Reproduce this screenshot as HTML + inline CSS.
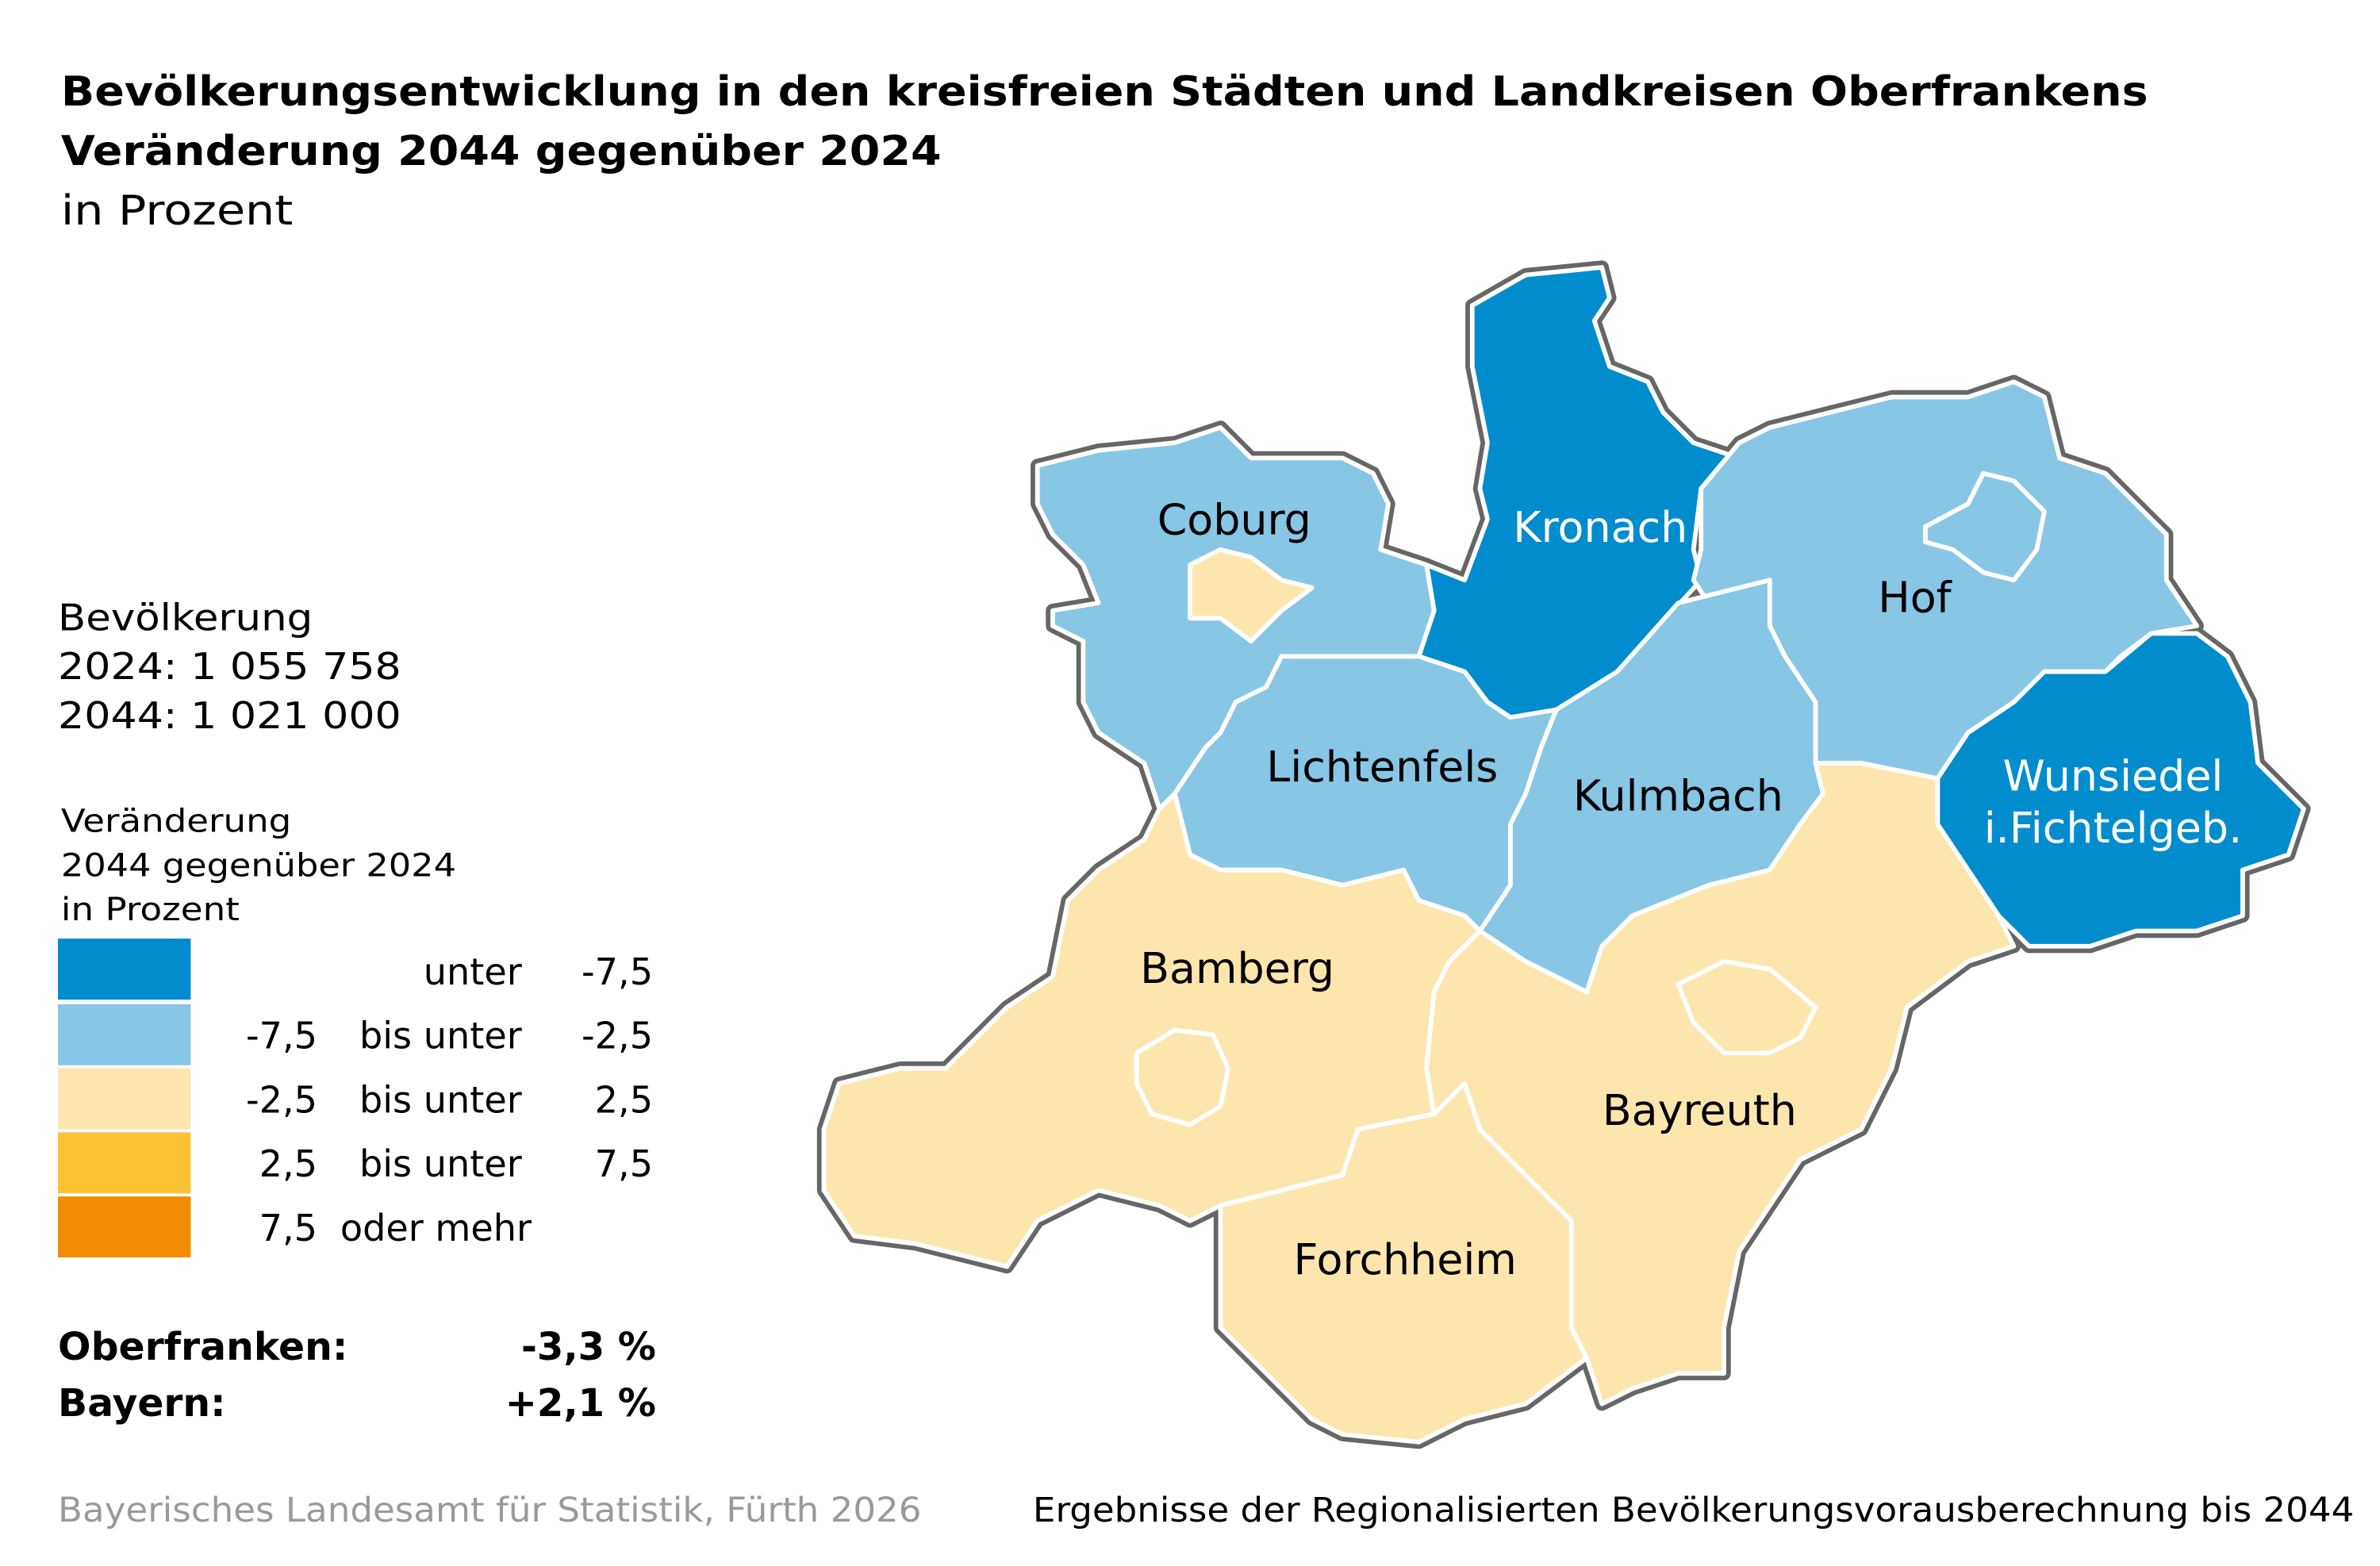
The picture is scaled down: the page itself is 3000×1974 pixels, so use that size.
<!DOCTYPE html>
<html><head><meta charset="utf-8"><style>
html,body{margin:0;padding:0;background:#fff}
svg{display:block}
text{font-family:"DejaVu Sans","Liberation Sans",sans-serif}
</style></head><body>
<svg width="3000" height="1974" viewBox="0 0 1560 1026" xmlns="http://www.w3.org/2000/svg">
<rect width="1560" height="1026" fill="#fff"/>
<text x="40" y="69" font-size="27" font-weight="bold" textLength="1368" lengthAdjust="spacingAndGlyphs">Bevölkerungsentwicklung in den kreisfreien Städten und Landkreisen Oberfrankens</text>
<text x="40" y="108" font-size="27" font-weight="bold" textLength="577" lengthAdjust="spacingAndGlyphs">Veränderung 2044 gegenüber 2024</text>
<text x="40" y="147" font-size="27" textLength="152" lengthAdjust="spacingAndGlyphs">in Prozent</text>

<text x="38" y="413" font-size="24" textLength="167" lengthAdjust="spacingAndGlyphs">Bevölkerung</text>
<text x="38" y="445" font-size="24" textLength="225" lengthAdjust="spacingAndGlyphs">2024:  1 055 758</text>
<text x="38" y="477" font-size="24" textLength="225" lengthAdjust="spacingAndGlyphs">2044:  1 021 000</text>
<text x="40" y="545" font-size="21" textLength="151" lengthAdjust="spacingAndGlyphs">Veränderung</text>
<text x="40" y="574" font-size="21" textLength="259" lengthAdjust="spacingAndGlyphs">2044 gegenüber 2024</text>
<text x="40" y="603" font-size="21" textLength="117" lengthAdjust="spacingAndGlyphs">in Prozent</text>
<rect x="38" y="615" width="87" height="40" fill="#008ccd"/>
<rect x="38" y="658" width="87" height="40" fill="#88c6e6"/>
<rect x="38" y="700" width="87" height="40" fill="#fde6ae"/>
<rect x="38" y="742" width="87" height="40" fill="#fcc233"/>
<rect x="38" y="784" width="87" height="40" fill="#f28c03"/>
<g font-size="24">
<text x="342" y="645" text-anchor="end">unter</text><text x="428" y="645" text-anchor="end">-7,5</text>
<text x="208" y="687" text-anchor="end">-7,5</text><text x="342" y="687" text-anchor="end">bis unter</text><text x="428" y="687" text-anchor="end">-2,5</text>
<text x="208" y="729" text-anchor="end">-2,5</text><text x="342" y="729" text-anchor="end">bis unter</text><text x="428" y="729" text-anchor="end">2,5</text>
<text x="208" y="771" text-anchor="end">2,5</text><text x="342" y="771" text-anchor="end">bis unter</text><text x="428" y="771" text-anchor="end">7,5</text>
<text x="208" y="813" text-anchor="end">7,5</text><text x="223" y="813">oder mehr</text>
</g>
<text x="38" y="891" font-size="25" font-weight="bold" textLength="190" lengthAdjust="spacingAndGlyphs">Oberfranken:</text><text x="430" y="891" font-size="25" font-weight="bold" text-anchor="end">-3,3 %</text>
<text x="38" y="928" font-size="25" font-weight="bold" textLength="110" lengthAdjust="spacingAndGlyphs">Bayern:</text><text x="430" y="928" font-size="25" font-weight="bold" text-anchor="end">+2,1 %</text>
<text x="38" y="997" font-size="22" fill="#9a9a9a" textLength="566" lengthAdjust="spacingAndGlyphs">Bayerisches Landesamt für Statistik, Fürth 2026</text>
<text x="677" y="997" font-size="22" textLength="866" lengthAdjust="spacingAndGlyphs">Ergebnisse der Regionalisierten Bevölkerungsvorausberechnung bis 2044</text>

<g stroke-linejoin="round">
<g stroke="#666" stroke-width="9" fill="#666">
<polygon points="965,200 1000,180 1050,175 1055,195 1045,210 1055,240 1080,250 1090,270 1110,290 1140,300 1115,320 1110,360 1115,380 1060,440 1050,450 1020,465 990,470 975,460 960,440 930,430 940,400 935,370 960,380 975,340 970,320 975,290 965,240"/>
<polygon points="680,305 720,295 770,290 800,280 820,300 840,300 880,300 900,310 910,330 905,360 935,370 940,400 930,430 880,430 840,430 830,450 810,460 800,480 790,490 770,520 760,530 750,500 720,480 710,460 710,420 690,410 690,400 720,395 710,370 690,350 680,330"/>
<polygon points="1115,320 1140,290 1160,280 1200,270 1240,260 1290,260 1320,250 1340,260 1350,300 1380,310 1400,330 1420,350 1420,380 1440,410 1410,415 1390,430 1380,440 1340,440 1320,460 1290,480 1270,510 1220,500 1190,500 1190,460 1170,430 1160,410 1160,380 1120,395 1110,380 1115,360"/>
<polygon points="1270,510 1290,480 1320,460 1340,440 1380,440 1410,415 1440,415 1460,430 1475,460 1480,500 1510,530 1500,560 1470,570 1470,600 1440,610 1400,610 1370,620 1330,620 1310,600 1290,570 1270,540"/>
<polygon points="760,530 770,520 780,560 800,570 840,570 880,580 920,570 930,590 960,600 970,610 950,630 940,650 935,700 940,730 890,740 880,770 800,790 780,800 760,790 720,780 680,800 660,830 640,825 600,815 560,810 540,780 540,740 550,710 590,700 620,700 660,660 690,640 700,590 720,570 750,550"/>
<polygon points="970,610 1000,630 1040,650 1050,620 1070,600 1120,580 1160,570 1180,540 1195,520 1190,500 1220,500 1270,510 1270,540 1290,570 1310,600 1320,620 1290,630 1250,660 1240,700 1220,740 1180,760 1160,790 1140,820 1130,870 1130,900 1100,900 1070,910 1050,920 1040,890 1030,870 1030,800 1000,770 970,740 960,710 940,730 935,700 940,650 950,630"/>
<polygon points="880,770 890,740 940,730 960,710 970,740 1000,770 1030,800 1030,870 1040,890 1000,920 960,930 930,945 880,940 860,930 830,900 800,870 800,790"/>
</g>
<g stroke="#fff" stroke-width="3">
<polygon fill="#008ccd" points="965,200 1000,180 1050,175 1055,195 1045,210 1055,240 1080,250 1090,270 1110,290 1140,300 1115,320 1110,360 1115,380 1060,440 1050,450 1020,465 990,470 975,460 960,440 930,430 940,400 935,370 960,380 975,340 970,320 975,290 965,240"/>
<polygon fill="#88c6e6" points="680,305 720,295 770,290 800,280 820,300 840,300 880,300 900,310 910,330 905,360 935,370 940,400 930,430 880,430 840,430 830,450 810,460 800,480 790,490 770,520 760,530 750,500 720,480 710,460 710,420 690,410 690,400 720,395 710,370 690,350 680,330"/>
<polygon fill="#fde6ae" points="780,370 800,360 820,365 840,380 860,385 840,400 820,420 800,405 780,405"/>
<polygon fill="#88c6e6" points="1115,320 1140,290 1160,280 1200,270 1240,260 1290,260 1320,250 1340,260 1350,300 1380,310 1400,330 1420,350 1420,380 1440,410 1410,415 1390,430 1380,440 1340,440 1320,460 1290,480 1270,510 1220,500 1190,500 1190,460 1170,430 1160,410 1160,380 1120,395 1110,380 1115,360"/>
<polygon fill="#88c6e6" points="1262,345 1290,330 1300,310 1320,315 1340,335 1335,360 1320,380 1300,375 1280,360 1262,355"/>
<polygon fill="#008ccd" points="1270,510 1290,480 1320,460 1340,440 1380,440 1410,415 1440,415 1460,430 1475,460 1480,500 1510,530 1500,560 1470,570 1470,600 1440,610 1400,610 1370,620 1330,620 1310,600 1290,570 1270,540"/>
<polygon fill="#88c6e6" points="1020,465 1060,440 1100,395 1160,380 1160,410 1170,430 1190,460 1190,500 1195,520 1180,540 1160,570 1120,580 1070,600 1050,620 1040,650 1000,630 970,610 990,580 990,540 1000,520 1010,490"/>
<polygon fill="#88c6e6" points="830,450 840,430 880,430 930,430 960,440 975,460 990,470 1020,465 1010,490 1000,520 990,540 990,580 970,610 960,600 930,590 920,570 880,580 840,570 800,570 780,560 770,520 790,490 800,480 810,460"/>
<polygon fill="#fde6ae" points="760,530 770,520 780,560 800,570 840,570 880,580 920,570 930,590 960,600 970,610 950,630 940,650 935,700 940,730 890,740 880,770 800,790 780,800 760,790 720,780 680,800 660,830 640,825 600,815 560,810 540,780 540,740 550,710 590,700 620,700 660,660 690,640 700,590 720,570 750,550"/>
<polygon fill="#fde6ae" points="745,690 770,675 795,678 805,700 800,725 780,737 755,730 745,710"/>
<polygon fill="#fde6ae" points="970,610 1000,630 1040,650 1050,620 1070,600 1120,580 1160,570 1180,540 1195,520 1190,500 1220,500 1270,510 1270,540 1290,570 1310,600 1320,620 1290,630 1250,660 1240,700 1220,740 1180,760 1160,790 1140,820 1130,870 1130,900 1100,900 1070,910 1050,920 1040,890 1030,870 1030,800 1000,770 970,740 960,710 940,730 935,700 940,650 950,630"/>
<polygon fill="#fde6ae" points="1100,645 1130,630 1160,635 1190,660 1180,680 1160,690 1130,690 1110,670"/>
<polygon fill="#fde6ae" points="880,770 890,740 940,730 960,710 970,740 1000,770 1030,800 1030,870 1040,890 1000,920 960,930 930,945 880,940 860,930 830,900 800,870 800,790"/>
</g>
</g>
<g font-size="28">
<text x="809" y="350" text-anchor="middle">Coburg</text>
<text x="1049" y="355" text-anchor="middle" fill="#fff">Kronach</text>
<text x="1255" y="401" text-anchor="middle">Hof</text>
<text x="906" y="512" text-anchor="middle">Lichtenfels</text>
<text x="1100" y="531" text-anchor="middle">Kulmbach</text>
<text x="1385" y="518" text-anchor="middle" fill="#fff">Wunsiedel</text>
<text x="1385" y="552" text-anchor="middle" fill="#fff">i.Fichtelgeb.</text>
<text x="811" y="644" text-anchor="middle">Bamberg</text>
<text x="1114" y="737" text-anchor="middle">Bayreuth</text>
<text x="921" y="835" text-anchor="middle">Forchheim</text>
</g>
</svg>
</body></html>
